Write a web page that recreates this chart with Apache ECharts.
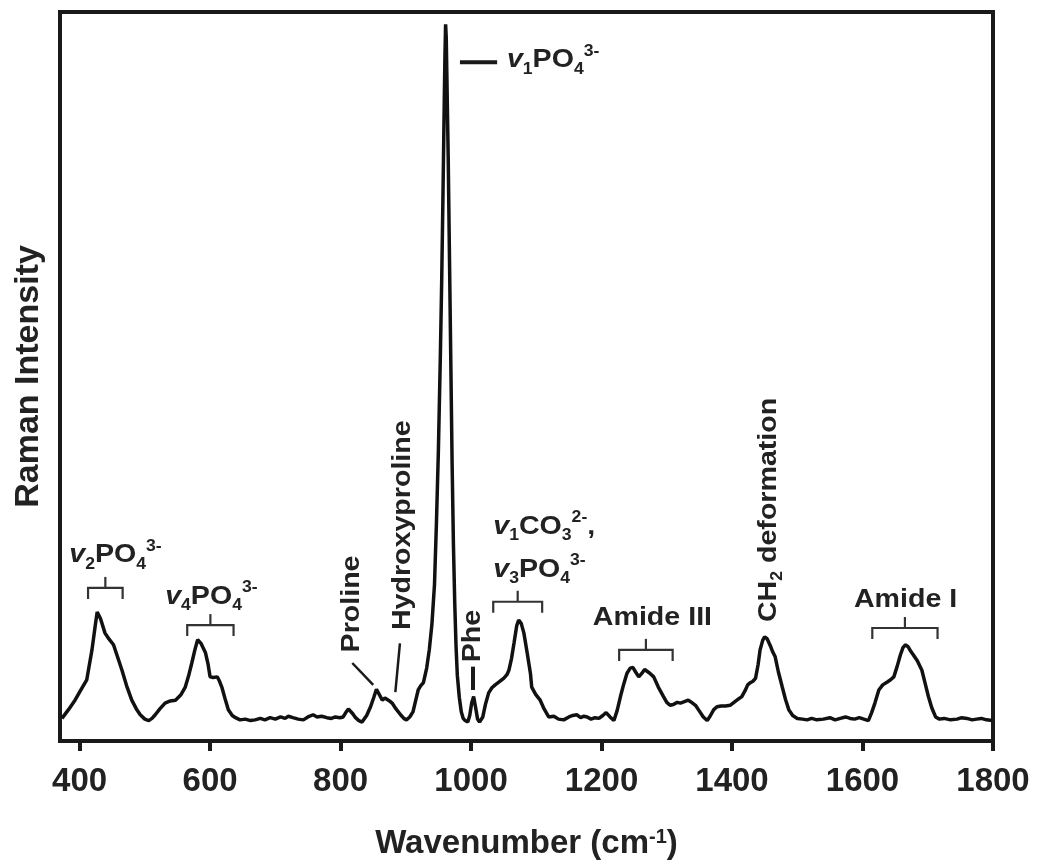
<!DOCTYPE html>
<html>
<head>
<meta charset="utf-8">
<title>Raman spectrum</title>
<script src="https://cdn.jsdelivr.net/npm/echarts@6/dist/echarts.min.js"></script>
<style>
  html, body { margin: 0; padding: 0; background: #fff; }
  #chart { width: 1037px; height: 865px; }
</style>
</head>
<body>
<div id="chart"></div>
<script>
// spectrum (wavenumber cm-1 / relative intensity)
var wavenumber = [
  373, 383, 393, 402, 411, 419, 424, 427, 432, 439, 445, 452, 458, 465, 472, 480, 487, 493, 500, 506,
  511, 516, 523, 531, 539, 547, 555, 562, 567, 572, 577, 581, 586, 593, 597, 600, 605, 611, 614, 618,
  623, 628, 634, 639, 646, 654, 662, 669, 677, 684, 692, 700, 708, 715, 720, 727, 735, 743, 750, 758,
  764, 771, 779, 786, 792, 799, 804, 808, 812, 815, 819, 823, 828, 833, 840, 846, 851, 855, 858, 864,
  868, 871, 875, 879, 885, 892, 897, 901, 906, 911, 915, 919, 923, 927, 932, 936, 940, 944, 947, 950,
  953, 955, 957, 959, 960, 961, 962, 963, 965, 967, 969, 971, 973, 975, 977, 979, 982, 985, 988, 991,
  995, 998, 1001, 1004, 1007, 1010, 1013, 1018, 1022, 1027, 1032, 1037, 1043, 1050, 1055, 1058, 1062, 1066, 1070, 1073,
  1077, 1081, 1086, 1091, 1093, 1099, 1106, 1112, 1119, 1127, 1134, 1142, 1150, 1156, 1162, 1168, 1173, 1178, 1184, 1190,
  1196, 1202, 1207, 1213, 1219, 1224, 1229, 1234, 1239, 1244, 1248, 1252, 1257, 1262, 1266, 1269, 1274, 1280, 1287, 1295,
  1300, 1305, 1310, 1316, 1321, 1327, 1333, 1338, 1344, 1350, 1356, 1362, 1367, 1372, 1377, 1383, 1390, 1397, 1403, 1409,
  1415, 1420, 1424, 1428, 1432, 1436, 1440, 1443, 1447, 1450, 1454, 1459, 1462, 1466, 1471, 1477, 1482, 1487, 1493, 1500,
  1508, 1515, 1522, 1530, 1540, 1550, 1558, 1566, 1574, 1581, 1588, 1595, 1602, 1609, 1614, 1619, 1625, 1631, 1638, 1643,
  1648, 1653, 1658, 1662, 1666, 1670, 1674, 1678, 1684, 1691, 1696, 1701, 1706, 1712, 1718, 1725, 1735, 1745, 1752, 1760,
  1768, 1775, 1782, 1790, 1799
];
var intensity = [
  3.1, 4.3, 5.6, 7.0, 8.4, 12.5, 15.8, 17.7, 16.8, 14.8, 14.0, 13.2, 11.6, 9.7, 7.6, 5.6, 4.4, 3.6, 3.0, 2.8,
  3.1, 3.6, 4.4, 5.2, 5.5, 5.6, 6.3, 7.4, 8.9, 10.7, 12.6, 13.9, 13.4, 12.1, 10.5, 8.8, 8.7, 8.8, 8.3, 7.4,
  5.8, 4.3, 3.5, 3.2, 2.9, 3.0, 2.8, 2.9, 3.1, 2.9, 3.2, 3.0, 3.3, 3.1, 3.4, 3.2, 3.0, 2.9, 3.3, 3.6,
  3.3, 3.4, 3.2, 3.1, 3.3, 3.2, 3.3, 3.9, 4.4, 4.4, 3.7, 3.2, 2.8, 2.6, 3.5, 4.7, 6.0, 7.1, 6.9, 5.6,
  5.9, 5.9, 5.5, 5.2, 4.4, 3.6, 3.1, 2.9, 3.3, 4.0, 5.5, 7.0, 7.6, 8.0, 10.0, 12.5, 16.0, 21.5, 30.0, 40.0,
  53.0, 63.0, 75.0, 88.0, 94.0, 98.3, 96.5, 91.0, 80.0, 66.0, 52.0, 38.0, 27.0, 19.0, 13.0, 9.0, 6.0, 4.0, 3.1, 2.8,
  2.6, 3.5, 5.2, 6.1, 4.6, 3.0, 2.6, 3.3, 5.0, 6.6, 7.3, 7.7, 8.1, 8.6, 9.1, 9.7, 11.3, 13.5, 15.8, 16.6,
  16.1, 14.8, 12.1, 9.3, 7.4, 6.4, 5.6, 4.4, 3.3, 3.4, 3.0, 2.9, 3.3, 3.5, 3.6, 3.2, 3.4, 3.3, 3.0, 3.2,
  3.1, 3.5, 3.9, 3.3, 2.8, 4.2, 6.1, 7.8, 9.3, 10.0, 10.1, 9.5, 8.8, 9.3, 9.8, 9.7, 9.3, 8.8, 7.4, 6.1,
  5.3, 4.9, 5.0, 5.3, 5.2, 5.4, 5.6, 5.3, 4.9, 4.1, 3.3, 2.8, 3.5, 4.3, 4.7, 4.8, 4.8, 4.9, 5.3, 5.7,
  6.1, 6.9, 7.7, 8.0, 8.2, 8.6, 10.5, 12.5, 13.8, 14.3, 14.0, 13.0, 12.3, 11.6, 9.5, 7.4, 5.7, 4.3, 3.5, 3.1,
  3.0, 2.9, 3.1, 2.9, 3.0, 3.2, 2.9, 3.1, 3.3, 3.1, 3.0, 3.2, 3.0, 2.8, 3.9, 5.2, 7.0, 7.7, 8.1, 8.4,
  8.8, 10.2, 11.8, 12.8, 13.2, 12.9, 12.3, 11.8, 11.0, 9.7, 7.9, 6.1, 4.6, 3.3, 3.0, 3.1, 2.9, 3.0, 3.2, 3.1,
  2.9, 3.0, 3.1, 2.9, 2.8
];
var tickValues = [400, 600, 800, 1000, 1200, 1400, 1600, 1800];

// band brackets: [from, to, height]
var bandBrackets = [
  [413, 466, 21.0],
  [565, 636, 15.9],
  [1034, 1109, 19.1],
  [1227, 1309, 12.5],
  [1615, 1715, 15.5]
];

var FONT = 'Liberation Sans, Arial, Helvetica, sans-serif';
var INK = '#222';

var chart = echarts.init(document.getElementById('chart'));

var seriesData = wavenumber.map(function (w, i) { return [w, intensity[i]]; });

chart.setOption({
  animation: false,
  backgroundColor: '#fff',
  grid: {
    left: 60, right: 44, top: 12, bottom: 124,
    show: true, borderWidth: 4, borderColor: '#1a1a1a'
  },
  xAxis: {
    type: 'value',
    min: 370, max: 1800,
    name: 'Wavenumber (cm{sup|-1})',
    nameLocation: 'middle',
    nameGap: 86,
    nameTextStyle: {
      fontFamily: FONT, fontSize: 33, fontWeight: 'bold', color: INK,
      rich: { sup: { fontFamily: FONT, fontSize: 20, fontWeight: 'bold', color: INK, verticalAlign: 'top', lineHeight: 20 } }
    },
    axisLine: { show: true, lineStyle: { color: '#1a1a1a', width: 4 } },
    axisTick: { show: true, customValues: tickValues, length: 10, lineStyle: { color: '#1a1a1a', width: 4 } },
    axisLabel: {
      customValues: tickValues,
      formatter: function (val) { return String(val); },
      fontFamily: FONT, fontSize: 33, fontWeight: 'bold', color: INK, margin: 24
    },
    splitLine: { show: false }
  },
  yAxis: {
    type: 'value',
    min: 0, max: 100,
    name: 'Raman Intensity',
    nameLocation: 'middle',
    nameGap: 14,
    nameTextStyle: { fontFamily: FONT, fontSize: 34, fontWeight: 'bold', color: INK },
    axisLine: { show: true, lineStyle: { color: '#1a1a1a', width: 4 } },
    axisTick: { show: false },
    axisLabel: { show: false },
    splitLine: { show: false }
  },
  series: [{
    type: 'line',
    data: seriesData,
    showSymbol: false,
    lineStyle: { color: '#111', width: 3.5 },
    z: 3
  }]
});

// annotations, anchored in data coordinates
function px(w, v) { return chart.convertToPixel({ seriesIndex: 0 }, [w, v]); }

var rich = {
  n: { fontFamily: FONT, fontSize: 26, fontWeight: 'bold', fill: INK, lineHeight: 34 },
  v: { fontFamily: FONT, fontSize: 26, fontWeight: 'bold', fontStyle: 'italic', fill: INK, lineHeight: 34 },
  sb: { fontFamily: FONT, fontSize: 16, fontWeight: 'bold', fill: INK, lineHeight: 16, verticalAlign: 'bottom' },
  sp: { fontFamily: FONT, fontSize: 16, fontWeight: 'bold', fill: INK, lineHeight: 16, verticalAlign: 'top' }
};

var labels = [
  { t: '{v|v}{sb|2}{n|PO}{sb|4}{sp|3-}', w: 455, v: 25.5, align: 'center' },
  { t: '{v|v}{sb|4}{n|PO}{sb|4}{sp|3-}', w: 602, v: 19.8, align: 'center' },
  { t: '{v|v}{sb|1}{n|PO}{sb|4}{sp|3-}', w: 1055, v: 93.4, align: 'left' },
  { t: '{n|Proline}', w: 818, v: 18.8, align: 'center', rot: true },
  { t: '{n|Hydroxyproline}', w: 896, v: 29.6, align: 'center', rot: true },
  { t: '{n|Phe}', w: 1002, v: 14.4, align: 'center', rot: true },
  { t: '{v|v}{sb|1}{n|CO}{sb|3}{sp|2-}{n|,}', w: 1034, v: 29.4, align: 'left' },
  { t: '{v|v}{sb|3}{n|PO}{sb|4}{sp|3-}', w: 1034, v: 23.5, align: 'left' },
  { t: '{n|Amide III}', w: 1278, v: 16.9, align: 'center' },
  { t: '{n|CH}{sb|2}{n| deformation}', w: 1456, v: 31.7, align: 'center', rot: true },
  { t: '{n|Amide I}', w: 1666, v: 19.3, align: 'center' }
];

// leader lines: [w1, v1, w2, v2, width]
var leaders = [
  [983, 93.1, 1040, 93.1, 4],
  [818, 10.7, 850, 7.7, 2.5],
  [891, 13.4, 884, 6.7, 2.5],
  [1003, 10.2, 1003, 7.0, 4]
];

var graphic = [];
labels.forEach(function (l) {
  var p = px(l.w, l.v);
  graphic.push({
    type: 'text',
    x: p[0], y: p[1],
    rotation: l.rot ? Math.PI / 2 : 0,
    scaleX: 1.1,
    z: 10,
    style: { text: l.t, rich: rich, align: l.align, verticalAlign: 'middle', fill: INK }
  });
});
bandBrackets.forEach(function (b) {
  var a = px(b[0], b[2]), c = px(b[1], b[2]);
  var mid = (a[0] + c[0]) / 2;
  graphic.push({
    type: 'polyline', z: 10,
    shape: { points: [[a[0], a[1] + 11], [a[0], a[1]], [c[0], c[1]], [c[0], c[1] + 11]] },
    style: { stroke: '#333', lineWidth: 2.2, fill: null }
  });
  graphic.push({
    type: 'line', z: 10,
    shape: { x1: mid, y1: a[1], x2: mid, y2: a[1] - 11 },
    style: { stroke: '#333', lineWidth: 2.2 }
  });
});
leaders.forEach(function (s) {
  var a = px(s[0], s[1]), c = px(s[2], s[3]);
  graphic.push({
    type: 'line', z: 10,
    shape: { x1: a[0], y1: a[1], x2: c[0], y2: c[1] },
    style: { stroke: '#1a1a1a', lineWidth: s[4] }
  });
});

chart.setOption({ graphic: graphic });
</script>
</body>
</html>
